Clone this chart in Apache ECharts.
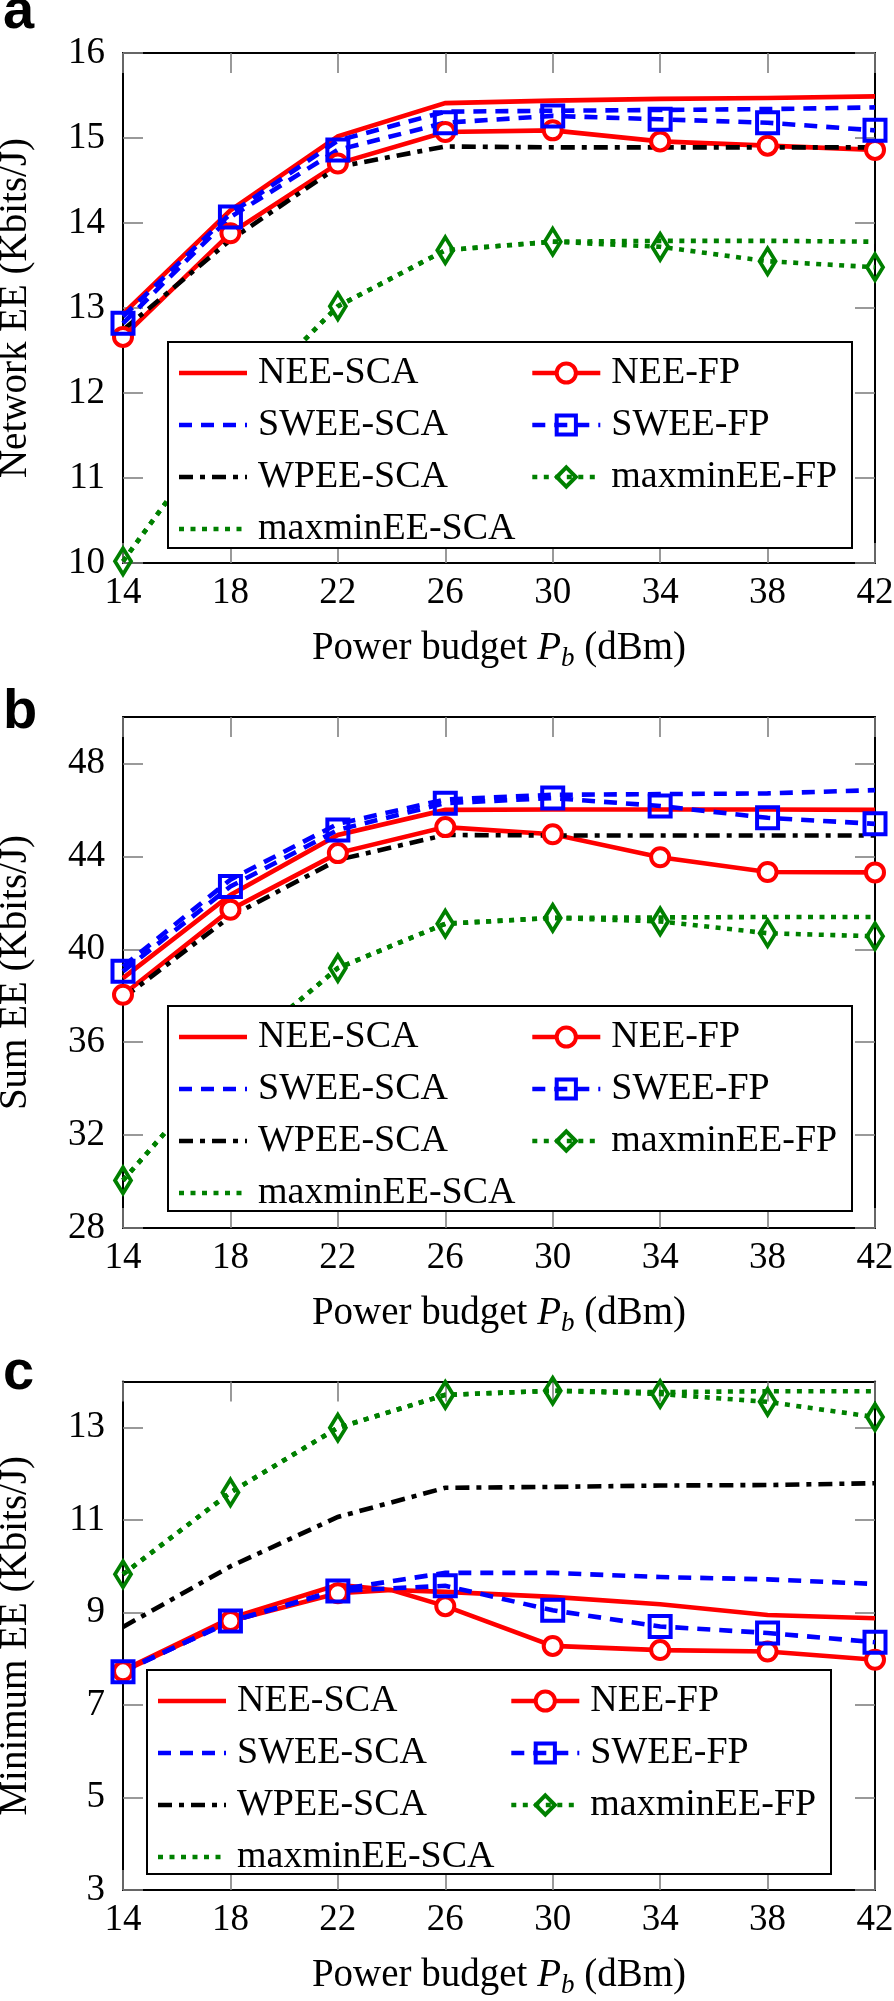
<!DOCTYPE html>
<html>
<head>
<meta charset="utf-8">
<script src="https://cdn.jsdelivr.net/npm/echarts@6.0.0/dist/echarts.min.js"></script>
<style>
html,body{margin:0;padding:0;background:#fff;}
#chart{width:894px;height:2001px;}
</style>
</head>
<body>
<div id="chart"></div>
<script>
// ---------------- data ----------------
const xTicks = [14, 18, 22, 26, 30, 34, 38, 42];
const P = [14, 18, 22, 26, 30, 34, 38, 42];
const P24 = [14, 18, 22, 24, 26, 30, 34, 38, 42];

const aYTicks = [10, 11, 12, 13, 14, 15, 16];
const bYTicks = [28, 32, 36, 40, 44, 48];
const cYTicks = [3, 5, 7, 9, 11, 13];

// (a) Network EE (Kbits/J)
const aNeeSca    = [12.93, 14.15, 15.02, 15.41, 15.44, 15.46, 15.47, 15.49];
const aNeeFp     = [12.66, 13.88, 14.70, 15.07, 15.09, 14.96, 14.91, 14.86];
const aSweeSca   = [12.90, 14.11, 14.97, 15.31, 15.32, 15.33, 15.34, 15.36];
const aSweeFp    = [12.82, 14.07, 14.86, 15.18, 15.26, 15.22, 15.18, 15.09];
const aWpeeSca   = [12.74, 13.80, 14.66, 14.90, 14.89, 14.89, 14.89, 14.89];
const aMaxminFp  = [10.02, 11.75, 13.02, 13.68, 13.78, 13.72, 13.55, 13.48];
const aMaxminSca = [10.02, 11.75, 13.02, 13.68, 13.78, 13.79, 13.79, 13.78];

// (b) Sum EE (Kbits/J)
const bNeeSca    = [38.76, 42.34, 44.92, 46.00, 46.02, 46.02, 46.02, 46.00];
const bNeeFp     = [38.04, 41.70, 44.14, 45.26, 44.95, 43.96, 43.33, 43.31];
const bSweeSca   = [39.26, 43.00, 45.40, 46.45, 46.65, 46.68, 46.71, 46.85];
const bSweeFp    = [39.05, 42.70, 45.14, 46.29, 46.51, 46.17, 45.66, 45.40];
const bWpeeSca   = [37.90, 41.41, 43.85, 44.92, 44.90, 44.90, 44.90, 44.90];
const bMaxminFp  = [30.05, 35.30, 39.19, 41.10, 41.35, 41.20, 40.69, 40.56];
const bMaxminSca = [30.05, 35.30, 39.19, 41.10, 41.35, 41.37, 41.39, 41.39];

// (c) Minimum EE (Kbits/J)
const cNeeSca    = [7.75, 8.88, 9.60, 9.49, 9.45, 9.34, 9.18, 8.95, 8.88];   // on P24
const cNeeFp     = [7.73, 8.82, 9.42, 9.49, 9.14, 8.28, 8.19, 8.16, 7.98];   // on P24
const cSweeSca   = [7.74, 8.80, 9.50, 9.86, 9.86, 9.77, 9.72, 9.62];
const cSweeFp    = [7.72, 8.82, 9.47, 9.58, 9.05, 8.70, 8.56, 8.36];
const cWpeeSca   = [8.69, 10.00, 11.07, 11.70, 11.72, 11.75, 11.76, 11.80];
const cMaxminFp  = [9.83, 11.60, 13.00, 13.71, 13.80, 13.73, 13.56, 13.23];
const cMaxminSca = [9.83, 11.60, 13.00, 13.71, 13.80, 13.77, 13.79, 13.79];

const names = ['NEE-SCA','NEE-FP','SWEE-SCA','SWEE-FP','WPEE-SCA','maxminEE-FP','maxminEE-SCA'];
const legendCol1 = ['NEE-SCA','SWEE-SCA','WPEE-SCA','maxminEE-SCA'];
const legendCol2 = ['NEE-FP','SWEE-FP','maxminEE-FP'];

// ---------------- styles ----------------
const SERIF = 'Liberation Serif';
const RED = '#ff0000', BLUE = '#0000ff', BLACK = '#000000', GREEN = '#008000';
const CLEAR = 'rgba(0,0,0,0)';
const styles = {
  'NEE-SCA':      {color: RED,   type: 'solid'},
  'NEE-FP':       {color: RED,   type: 'solid', symbol: 'circle', fill: '#ffffff', size: 18},
  'SWEE-SCA':     {color: BLUE,  type: [13, 9]},
  'SWEE-FP':      {color: BLUE,  type: [13, 9], symbol: 'rect', fill: CLEAR, size: 21},
  'WPEE-SCA':     {color: BLACK, type: [14, 7, 5, 7]},
  'maxminEE-FP':  {color: GREEN, type: [5, 6.5], symbol: 'diamond', fill: CLEAR, size: [16, 26]},
  'maxminEE-SCA': {color: GREEN, type: [5, 6.5]}
};

const panels = [
  {letter: 'a', top: 53, height: 510, ymin: 10, ymax: 16, yTicks: aYTicks, yName: 'Network EE (Kbits/J)',
   box: [168, 342, 684, 206], letterY: 13,
   data: {'NEE-SCA': [P, aNeeSca], 'NEE-FP': [P, aNeeFp], 'SWEE-SCA': [P, aSweeSca], 'SWEE-FP': [P, aSweeFp],
          'WPEE-SCA': [P, aWpeeSca], 'maxminEE-FP': [P, aMaxminFp], 'maxminEE-SCA': [P, aMaxminSca]}},
  {letter: 'b', top: 717, height: 511, ymin: 28, ymax: 50, yTicks: bYTicks, yName: 'Sum EE (Kbits/J)',
   box: [168, 1006, 684, 205], letterY: 712.5,
   data: {'NEE-SCA': [P, bNeeSca], 'NEE-FP': [P, bNeeFp], 'SWEE-SCA': [P, bSweeSca], 'SWEE-FP': [P, bSweeFp],
          'WPEE-SCA': [P, bWpeeSca], 'maxminEE-FP': [P, bMaxminFp], 'maxminEE-SCA': [P, bMaxminSca]}},
  {letter: 'c', top: 1381.5, height: 508.5, ymin: 3, ymax: 14, yTicks: cYTicks, yName: 'Minimum EE (Kbits/J)',
   box: [147, 1670, 684, 204], letterY: 1373.5,
   data: {'NEE-SCA': [P24, cNeeSca], 'NEE-FP': [P24, cNeeFp], 'SWEE-SCA': [P, cSweeSca], 'SWEE-FP': [P, cSweeFp],
          'WPEE-SCA': [P, cWpeeSca], 'maxminEE-FP': [P, cMaxminFp], 'maxminEE-SCA': [P, cMaxminSca]}}
];

const GRID_LEFT = 123, GRID_W = 752;
const tickStyle = {color: '#808080', width: 1.6};
const axisLineStyle = {color: '#000', width: 2};

const grid = [], xAxis = [], yAxis = [], series = [], legend = [], graphic = [];

panels.forEach((p, gi) => {
  grid.push({left: GRID_LEFT, top: p.top, width: GRID_W, height: p.height, containLabel: false, outerBoundsMode: 'none'});
  // bottom x axis
  xAxis.push({
    gridIndex: gi, type: 'value', min: 14, max: 42, position: 'bottom',
    axisLine: {show: true, onZero: false, lineStyle: axisLineStyle},
    axisTick: {show: true, inside: true, length: 20, lineStyle: tickStyle, customValues: xTicks},
    axisLabel: {show: true, margin: 12, fontFamily: SERIF, fontSize: 37, color: '#000', customValues: xTicks},
    splitLine: {show: false},
    name: '{t|Power budget }{i|P}{s|b}{t| (dBm)}', nameLocation: 'middle', nameGap: 66,
    nameTextStyle: {
      fontFamily: SERIF, fontSize: 39, color: '#000',
      rich: {
        t: {fontFamily: SERIF, fontSize: 39, color: '#000', lineHeight: 40},
        i: {fontFamily: SERIF, fontSize: 39, color: '#000', fontStyle: 'italic', lineHeight: 40},
        s: {fontFamily: SERIF, fontSize: 27, color: '#000', fontStyle: 'italic', lineHeight: 27, padding: [20, 0, 0, 0]}
      }
    }
  });
  // top x axis (box + ticks)
  xAxis.push({
    gridIndex: gi, type: 'value', min: 14, max: 42, position: 'top',
    axisLine: {show: true, onZero: false, lineStyle: axisLineStyle},
    axisTick: {show: true, inside: true, length: 20, lineStyle: tickStyle, customValues: xTicks},
    axisLabel: {show: false}, splitLine: {show: false}
  });
  // left y axis
  yAxis.push({
    gridIndex: gi, type: 'value', min: p.ymin, max: p.ymax, position: 'left',
    axisLine: {show: true, onZero: false, lineStyle: axisLineStyle},
    axisTick: {show: true, inside: true, length: 20, lineStyle: tickStyle, customValues: p.yTicks},
    axisLabel: {show: true, margin: 18, fontFamily: SERIF, fontSize: 37, color: '#000', customValues: p.yTicks},
    splitLine: {show: false},
    name: p.yName, nameLocation: 'middle', nameGap: 88,
    nameTextStyle: {fontFamily: SERIF, fontSize: 39, color: '#000'}
  });
  // right y axis
  yAxis.push({
    gridIndex: gi, type: 'value', min: p.ymin, max: p.ymax, position: 'right',
    axisLine: {show: true, onZero: false, lineStyle: axisLineStyle},
    axisTick: {show: true, inside: true, length: 20, lineStyle: tickStyle, customValues: p.yTicks},
    axisLabel: {show: false}, splitLine: {show: false}
  });

  names.forEach((name) => {
    const st = styles[name];
    const [xs, ys] = p.data[name];
    const hasMark = !!st.symbol;
    series.push({
      type: 'line', name: name, xAxisIndex: gi * 2, yAxisIndex: gi * 2,
      data: xs.map((x, i) => (hasMark && xTicks.indexOf(x) < 0) ? {value: [x, ys[i]], symbol: 'none'} : [x, ys[i]]),
      symbol: hasMark ? st.symbol : 'circle',
      showSymbol: hasMark,
      symbolSize: hasMark ? st.size : 0,
      itemStyle: hasMark ? {color: st.fill, borderColor: st.color, borderWidth: 4}
                         : {color: CLEAR, borderColor: CLEAR, borderWidth: 0},
      lineStyle: {color: st.color, width: 4.6, type: st.type, cap: 'butt', join: 'miter'},
      clip: false, animation: false, silent: true,
      emphasis: {disabled: true}
    });
  });

  const [bx, by, bw, bh] = p.box;
  graphic.push({
    type: 'rect', z: 10, silent: true,
    shape: {x: bx, y: by, width: bw, height: bh},
    style: {fill: '#ffffff', stroke: '#000000', lineWidth: 2}
  });
  graphic.push({
    type: 'text', z: 10, silent: true, x: 3, y: p.letterY,
    style: {text: p.letter, font: 'bold 56px "Liberation Sans", Arial, sans-serif', fill: '#000', verticalAlign: 'middle', align: 'left'}
  });

  const legendCommon = {
    orient: 'vertical', itemWidth: 68, itemHeight: 24, itemGap: 12, padding: 0,
    selectedMode: false, z: 20,
    textStyle: {fontFamily: SERIF, fontSize: 38, color: '#000', lineHeight: 40, padding: [0, 0, 0, 6]},
    itemStyle: {borderWidth: 4},
    lineStyle: {width: 4.6}
  };
  legend.push(Object.assign({}, legendCommon, {left: bx + 8.7, top: by + 11, data: legendCol1}));
  legend.push(Object.assign({}, legendCommon, {left: bx + 362, top: by + 11, data: legendCol2}));
});

const chart = echarts.init(document.getElementById('chart'), null, {renderer: 'canvas', width: 894, height: 2001});
chart.setOption({
  backgroundColor: '#ffffff',
  animation: false,
  grid: grid, xAxis: xAxis, yAxis: yAxis, series: series, legend: legend, graphic: graphic
});
</script>
</body>
</html>
